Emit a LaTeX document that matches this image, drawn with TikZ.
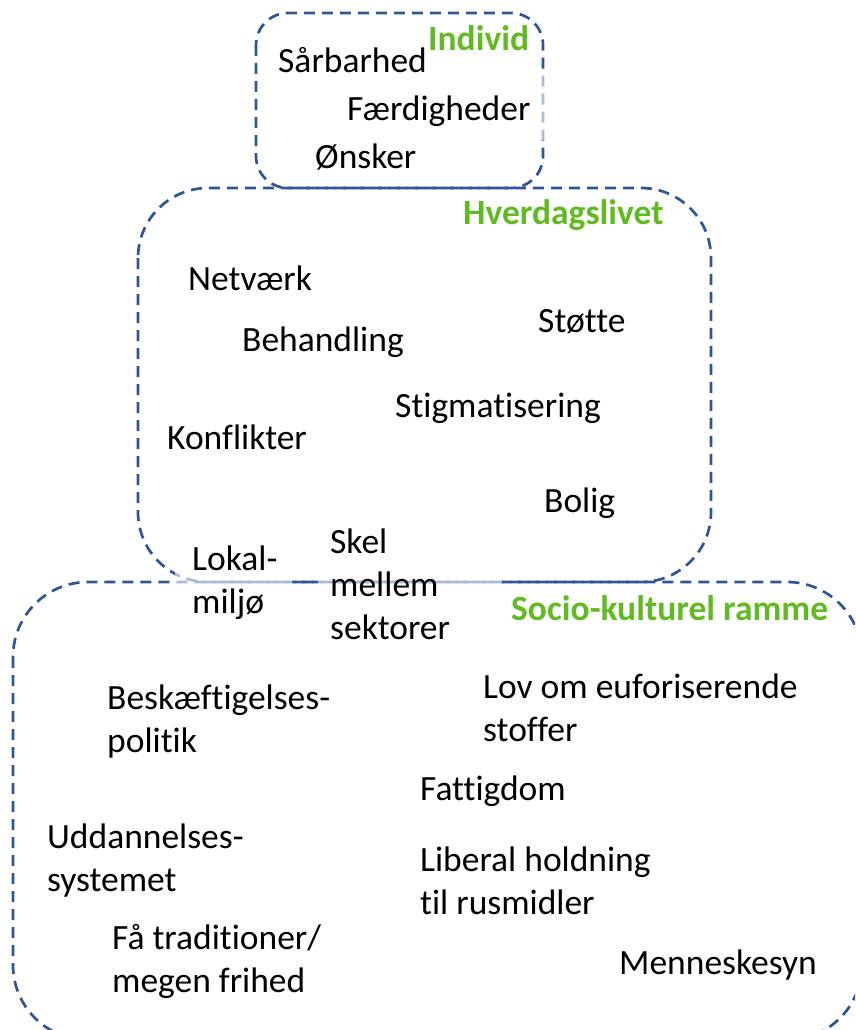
\documentclass[tikz,border=0pt]{standalone}
\usepackage{fontspec}
\setmainfont{Carlito}[Ligatures={NoCommon,NoRequired,NoContextual}]
\definecolor{frame}{RGB}{47,85,151}
\definecolor{label}{RGB}{96,187,34}
\tikzset{
  zone/.style={draw=frame, line width=2.7pt, dash pattern=on 11pt off 7pt, rounded corners=#1},
  item/.style={anchor=west, inner sep=0pt, align=left, font=\fontsize{35.5}{43}\selectfont},
  head/.style={anchor=west, inner sep=0pt, text=label, font=\fontsize{35.5}{40}\selectfont\bfseries},
  veil/.style={fill=white, opacity=0.6}
}
\begin{document}
\begin{tikzpicture}[x=1pt,y=-1pt]
\useasboundingbox (0,0) rectangle (855,1030);
\clip (0,0) rectangle (855,1030);

% the three nested levels
\draw[zone=75] (13,582) rectangle (862,1040);
\draw[zone=70] (138,188) rectangle (711,582);
\draw[zone=32] (256,13) rectangle (543,188);

% text boxes partly covering the frames
\fill[veil] (340,75) rectangle (552,140);
\fill[veil] (175,545) rectangle (292,620);
\fill[veil] (318,525) rectangle (502,640);

% Individ
\node[head] (indiv) at (428,38) {Individ};
\node[item] (saar) at (278,60) {Sårbarhed};
\node[item] (faerd) at (347,111) {Færdigheder};
\node[item] (oensk) at (315,157) {Ønsker};

% Hverdagslivet
\node[head] (hverd) at (463,215) {Hverdagslivet};
\node[item] (netv) at (188,278) {Netværk};
\node[item] (stoette) at (538,322) {Støtte};
\node[item] (behand) at (242,342) {Behandling};
\node[item] (stigma) at (395,408) {Stigmatisering};
\node[item] (konfl) at (167,437) {Konflikter};
\node[item] (bolig) at (544,503) {Bolig};
\node[item] (lokal) at (192,583) {Lokal-\\miljø};
\node[item] (skel) at (330,584) {Skel\\mellem\\sektorer};

% Socio-kulturel ramme
\node[head] (socio) at (511,608) {Socio-kulturel ramme};
\node[item] (beskaef) at (107,722) {Beskæftigelses-\\politik};
\node[item] (lov) at (483,708) {Lov om euforiserende\\stoffer};
\node[item] (fattig) at (420,791) {Fattigdom};
\node[item] (uddan) at (47,861) {Uddannelses-\\systemet};
\node[item] (liberal) at (420,881) {Liberal holdning\\til rusmidler};
\node[item] (faa) at (112,961) {Få traditioner/\\megen frihed};
\node[item] (menn) at (619,965) {Menneskesyn};
\end{tikzpicture}
\end{document}
